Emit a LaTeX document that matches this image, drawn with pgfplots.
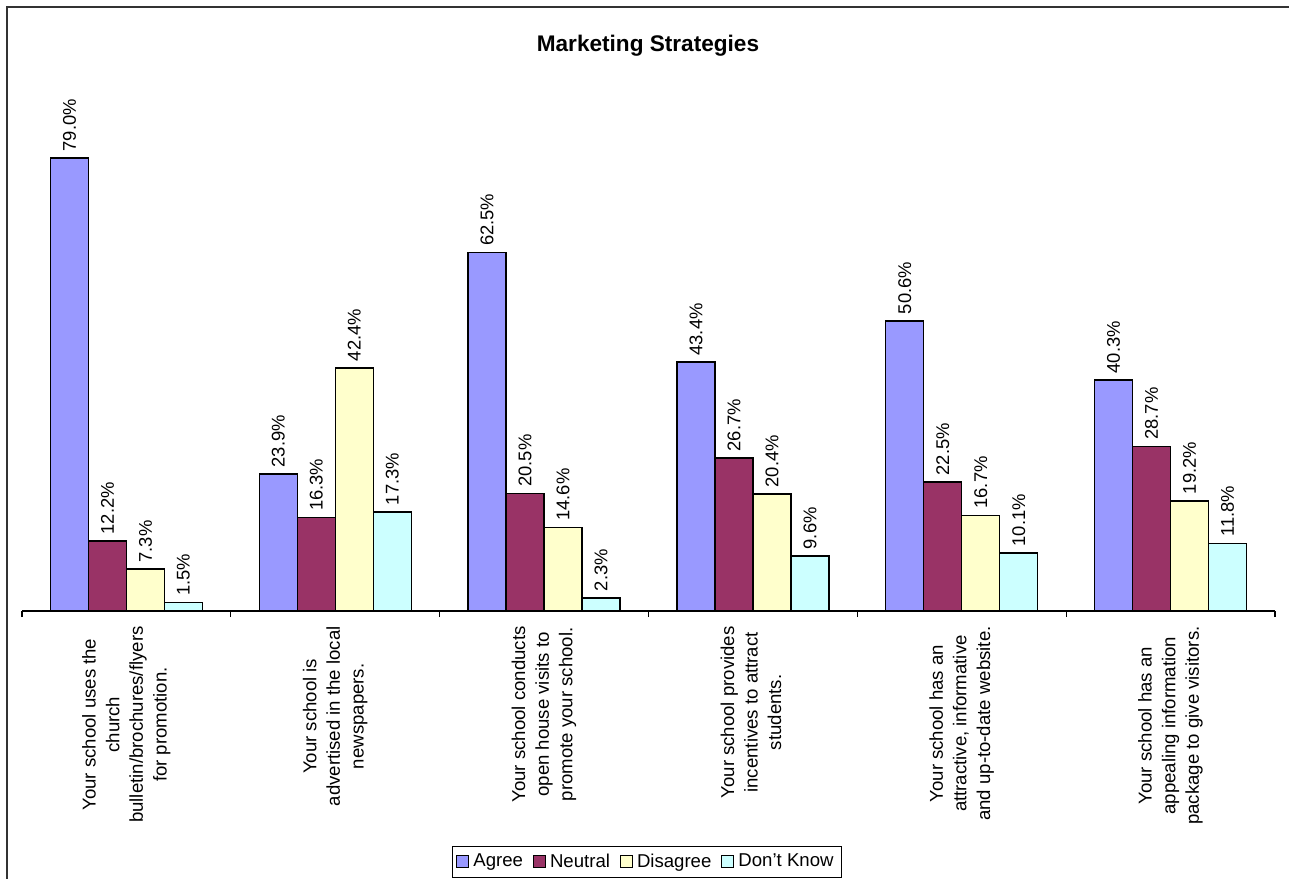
\documentclass[border=0pt]{standalone}
\usepackage{pgfplots}
\pgfplotsset{compat=1.18}
\usepackage{fontspec}
\setmainfont{Liberation Sans}
\definecolor{cAgree}{HTML}{9999FF}
\definecolor{cNeutral}{HTML}{993366}
\definecolor{cDis}{HTML}{FFFFCC}
\definecolor{cDK}{HTML}{CCFFFF}
\newcommand\lbl[1]{\begin{tabular}{@{}c@{}}#1\end{tabular}}
\begin{document}
\begin{tikzpicture}
\path[use as bounding box] (-11pt,-133.5pt) rectangle (633.5pt,305.5pt);
\draw[line width=0.9pt, black!80] (-7.5pt,-140pt) -- (-7.5pt,302pt) -- (640pt,302pt);
\begin{axis}[
  at={(0,0)}, anchor=south west,
  scale only axis, width=626.5pt, height=258pt,
  xmin=-0.5, xmax=5.5, ymin=0, ymax=90,
  axis x line*=bottom, axis y line=none,
  axis line style={black, line width=0.6pt},
  ybar=0pt, bar width=19pt,
  xtick={0,1,2,3,4,5},
  major tick length=0pt,
  minor xtick={-0.5,0.5,1.5,2.5,3.5,4.5,5.5},
  minor tick length=3pt, tick align=outside,
  minor tick style={black, line width=0.6pt},
  xticklabels={
    {\lbl{Your school uses the\\church\\bulletin/brochures/flyers\\for promotion.}},
    {\lbl{Your school is\\advertised in the local\\newspapers.}},
    {\lbl{Your school conducts\\open house visits to\\promote your school.}},
    {\lbl{Your school provides\\incentives to attract\\students.}},
    {\lbl{Your school has an\\attractive, informative\\and up-to-date website.}},
    {\lbl{Your school has an\\appealing information\\package to give visitors.}}},
  xticklabel style={rotate=90, anchor=east, inner sep=0pt,
    font=\fontsize{9.3}{11.8}\selectfont},
  xticklabel shift=7.5pt,
  title={Marketing Strategies},
  title style={at={(axis description cs:0.4996,1.072)}, anchor=center,
    font=\bfseries\fontsize{11.3}{13}\selectfont},
  /pgf/number format/assume math mode=true,
  nodes near coords={\pgfmathprintnumber[fixed,fixed zerofill,precision=1]{\pgfplotspointmeta}\%},
  every node near coord/.append style={rotate=90, anchor=west, inner xsep=3pt, inner ysep=0pt,
    font=\fontsize{9.2}{11}\selectfont, black},
  legend columns=-1,
  legend style={at={(axis description cs:0.4988,-0.4864)}, anchor=center,
    draw=black, line width=0.5pt, inner xsep=2pt, inner ysep=1.5pt,
    font=\fontsize{9.3}{11}\selectfont,
    /tikz/every even column/.append style={column sep=3pt}},
  legend image code/.code={\draw[#1, line width=0.5pt] (0pt,-3pt) rectangle (6pt,3pt);},
]
\addplot[fill=cAgree, draw=black, line width=0.7pt] coordinates {(0,79.0) (1,23.9) (2,62.5) (3,43.4) (4,50.6) (5,40.3)};
\addplot[fill=cNeutral, draw=black, line width=0.7pt] coordinates {(0,12.2) (1,16.3) (2,20.5) (3,26.7) (4,22.5) (5,28.7)};
\addplot[fill=cDis, draw=black, line width=0.7pt] coordinates {(0,7.3) (1,42.4) (2,14.6) (3,20.4) (4,16.7) (5,19.2)};
\addplot[fill=cDK, draw=black, line width=0.7pt] coordinates {(0,1.5) (1,17.3) (2,2.3) (3,9.6) (4,10.1) (5,11.8)};
\legend{Agree, Neutral, Disagree, Don't Know}
\end{axis}
\end{tikzpicture}
\end{document}
